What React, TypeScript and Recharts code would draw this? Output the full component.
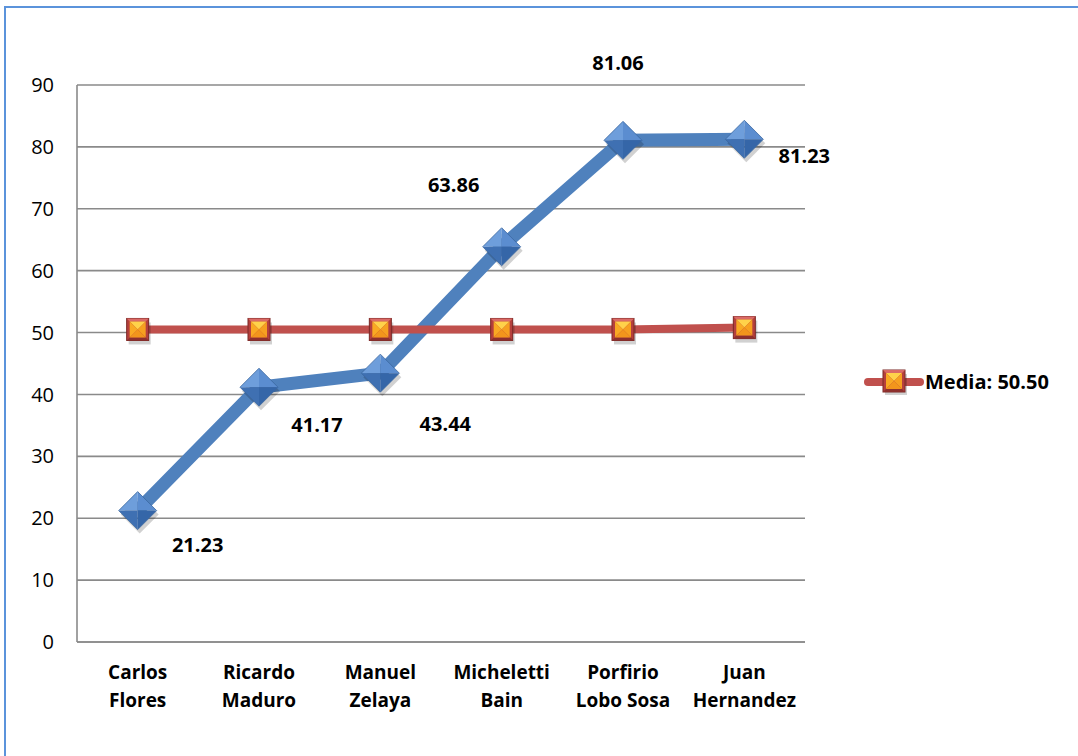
import React from "react";
import {
  ComposedChart,
  Line,
  XAxis,
  YAxis,
  CartesianGrid,
  Legend,
  LabelList,
} from "recharts";

const categories = [
  "Carlos Flores",
  "Ricardo Maduro",
  "Manuel Zelaya",
  "Micheletti Bain",
  "Porfirio Lobo Sosa",
  "Juan Hernandez",
];
const values = [21.23, 41.17, 43.44, 63.86, 81.06, 81.23];
const mediaValues = [50.5, 50.5, 50.5, 50.5, 50.5, 50.8];
const yTicks = [0, 10, 20, 30, 40, 50, 60, 70, 80, 90];
const mediaName = "Media: 50.50";

const data = categories.map((name, i) => ({
  name,
  valor: values[i],
  media: mediaValues[i],
}));

// where each value label sits relative to its point (dx, dy)
const labelOffsets = [
  [60, 34],
  [58, 37],
  [65, 50],
  [-48, -62],
  [-5, -78],
  [60, 16],
];

const FONT = "'Open Sans', 'Liberation Sans', sans-serif";
const GRID = "#8a8a8a";
const BLUE = "#4F81BD";
const RED = "#C0504D";

function Diamond(props: any) {
  const { cx, cy } = props;
  if (cx == null || cy == null) return null;
  const r = 19;
  const t = `${cx},${cy - r}`;
  const ri = `${cx + r},${cy}`;
  const b = `${cx},${cy + r}`;
  const l = `${cx - r},${cy}`;
  const c = `${cx},${cy}`;
  return (
    <g>
      <polygon
        points={`${cx + 2},${cy - r + 4} ${cx + r + 2},${cy + 4} ${cx + 2},${cy + r + 4} ${cx - r + 2},${cy + 4}`}
        fill="rgba(0,0,0,0.18)"
      />
      <polygon points={`${t} ${l} ${c}`} fill="#6E9EDB" />
      <polygon points={`${t} ${ri} ${c}`} fill="#5B8DD0" />
      <polygon points={`${l} ${b} ${c}`} fill="#3F70B2" />
      <polygon points={`${ri} ${b} ${c}`} fill="#3566A8" />
      <polygon points={`${t} ${ri} ${b} ${l}`} fill="none" stroke="#3A679F" strokeWidth={0.8} />
    </g>
  );
}

function SquareMarker(props: any) {
  const { cx, cy } = props;
  if (cx == null || cy == null) return null;
  const h = 11;
  const i = 8;
  return (
    <g>
      <rect x={cx - h + 2} y={cy - h + 4} width={2 * h} height={2 * h} fill="rgba(0,0,0,0.18)" />
      <rect x={cx - h} y={cy - h} width={2 * h} height={2 * h} fill="#B5403D" stroke="#7A2826" strokeWidth={1} />
      <polygon points={`${cx - h},${cy - h} ${cx + h},${cy - h} ${cx + i},${cy - i} ${cx - i},${cy - i}`} fill="#DA6A66" />
      <polygon points={`${cx - h},${cy + h} ${cx + h},${cy + h} ${cx + i},${cy + i} ${cx - i},${cy + i}`} fill="#8E302D" />
      <polygon points={`${cx - i},${cy - i} ${cx + i},${cy - i} ${cx},${cy}`} fill="#FFD24A" />
      <polygon points={`${cx - i},${cy - i} ${cx - i},${cy + i} ${cx},${cy}`} fill="#F9A923" />
      <polygon points={`${cx + i},${cy - i} ${cx + i},${cy + i} ${cx},${cy}`} fill="#F6A020" />
      <polygon points={`${cx - i},${cy + i} ${cx + i},${cy + i} ${cx},${cy}`} fill="#F2951C" />
    </g>
  );
}

function ValueLabel(props: any) {
  const { x, y, value, index } = props;
  const [dx, dy] = labelOffsets[index] || [0, -20];
  return (
    <text
      x={x + dx}
      y={y + dy}
      textAnchor="middle"
      dominantBaseline="central"
      fontFamily={FONT}
      fontWeight="bold"
      fontSize={20}
      fill="#000"
    >
      {Number(value).toFixed(2)}
    </text>
  );
}

function CategoryTick(props: any) {
  const { x, y, payload } = props;
  const name: string = payload.value;
  const sp = name.indexOf(" ");
  const first = name.slice(0, sp);
  const rest = name.slice(sp + 1);
  return (
    <text
      x={x}
      y={y}
      textAnchor="middle"
      fontFamily={FONT}
      fontWeight="bold"
      fontSize={19}
      fill="#000"
    >
      <tspan x={x} dy={37}>{first}</tspan>
      <tspan x={x} dy={28}>{rest}</tspan>
    </text>
  );
}

function MediaLegend() {
  return (
    <div style={{ display: "flex", alignItems: "center", fontFamily: FONT }}>
      <svg width={60} height={26}>
        <line x1={4} y1={13} x2={56} y2={13} stroke={RED} strokeWidth={8} strokeLinecap="round" />
        <SquareMarker cx={30} cy={12} />
      </svg>
      <span style={{ fontWeight: "bold", fontSize: 20, color: "#000", marginLeft: 1 }}>
        {mediaName}
      </span>
    </div>
  );
}

export default function App() {
  return (
    <div
      style={{
        position: "absolute",
        left: 0,
        top: 0,
        width: 1078,
        height: 756,
        background: "#fff",
      }}
    >
      <div
        style={{
          position: "absolute",
          left: 4,
          top: 6,
          width: 1074,
          height: 750,
          borderLeft: "2px solid #5B93DB",
          borderTop: "2px solid #5B93DB",
          boxSizing: "border-box",
        }}
      />
      <ComposedChart
        width={1078}
        height={756}
        data={data}
        margin={{ top: 85, right: 273, bottom: 34, left: 17 }}
        style={{ position: "absolute", left: 0, top: 0 }}
      >
        <CartesianGrid vertical={false} stroke={GRID} strokeWidth={1.6} />
        <XAxis
          dataKey="name"
          scale="band"
          height={80}
          tickLine={false}
          tickSize={0}
          tickMargin={0}
          axisLine={{ stroke: GRID, strokeWidth: 1.6 }}
          tick={<CategoryTick />}
          interval={0}
        />
        <YAxis
          width={60}
          domain={[0, 90]}
          ticks={yTicks}
          interval={0}
          tickLine={false}
          tickSize={0}
          tickMargin={23}
          axisLine={{ stroke: GRID, strokeWidth: 1.6 }}
          tick={{ fill: "#000", fontSize: 20, fontFamily: FONT }}
        />
        <Legend
          layout="horizontal"
          verticalAlign="middle"
          align="center"
          wrapperStyle={{ left: 864, top: 368, width: 214 }}
          content={() => <MediaLegend />}
        />
        <Line
          dataKey="valor"
          name="Valor"
          stroke={BLUE}
          strokeWidth={13}
          dot={<Diamond />}
          activeDot={false}
          legendType="none"
          isAnimationActive={false}
        >
          <LabelList dataKey="valor" content={<ValueLabel />} />
        </Line>
        <Line
          dataKey="media"
          name={mediaName}
          stroke={RED}
          strokeWidth={8}
          dot={<SquareMarker />}
          activeDot={false}
          isAnimationActive={false}
        />
      </ComposedChart>
    </div>
  );
}
